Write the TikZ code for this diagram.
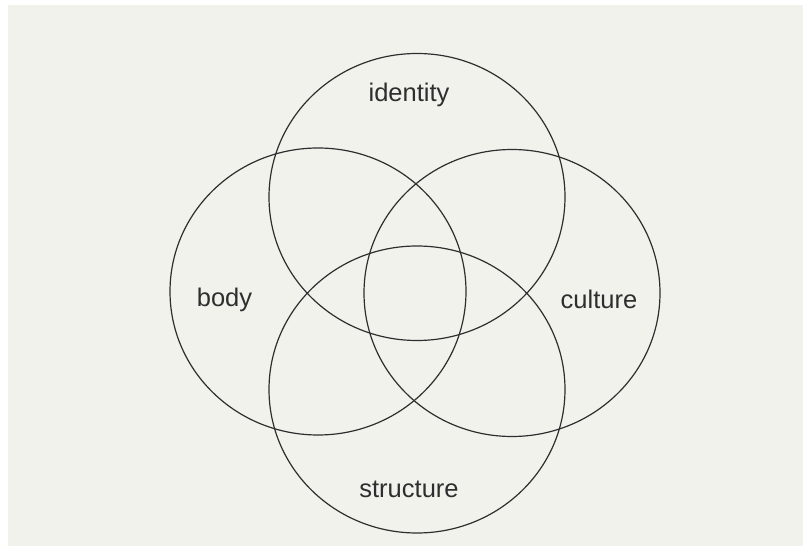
\documentclass[tikz,border=0pt]{standalone}
\usepackage{fontspec}
\setmainfont{Liberation Sans}
\usetikzlibrary{shapes.geometric}
\definecolor{paper}{HTML}{F1F2EC}
\definecolor{ink}{HTML}{2E2E2E}
\begin{document}
\begin{tikzpicture}[
    x=1pt, y=1pt,
    ring/.style={ellipse, draw=ink, line width=1.2pt, minimum width=296pt, minimum height=287pt, inner sep=0pt},
    tag/.style={anchor=base, text=ink, font=\fontsize{25.5}{30}\selectfont, inner sep=0pt}
]
% page
\fill[white] (0,0) rectangle (803,546);
\fill[paper] (8,0) rectangle (803,541);
\useasboundingbox (0,0) rectangle (803,546);
% circles
\node[ring] (identity) at (417, 349) {};
\node[ring] (body) at (318, 254.5) {};
\node[ring] (culture) at (512, 253) {};
\node[ring] (structure) at (417, 156.5) {};
% labels
\node[tag] (identitytxt) at (409, 444) {identity};
\node[tag] (bodytxt) at (224.5, 239) {body};
\node[tag] (culturetxt) at (599, 237) {culture};
\node[tag] (structuretxt) at (409, 48) {structure};
\end{tikzpicture}
\end{document}
